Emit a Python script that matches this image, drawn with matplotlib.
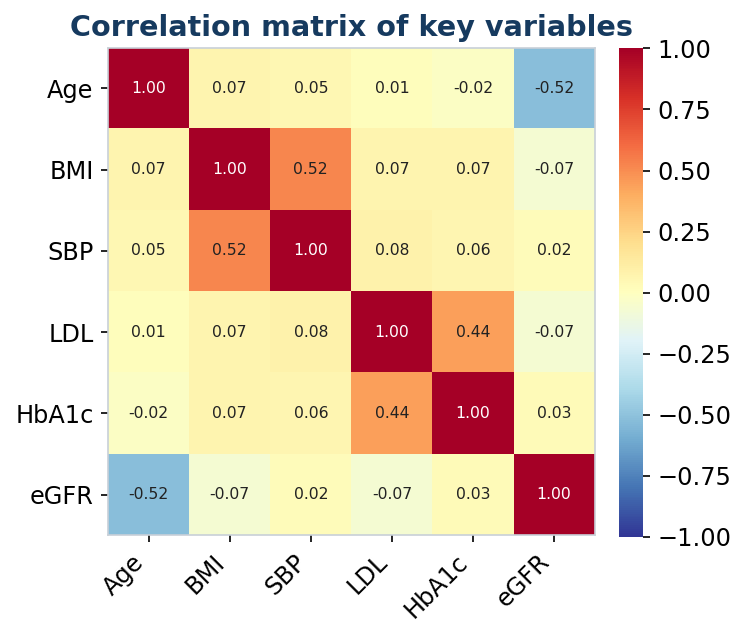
import numpy as np
import matplotlib
matplotlib.use("Agg")
import matplotlib.pyplot as plt

labels = ["Age", "BMI", "SBP", "LDL", "HbA1c", "eGFR"]
corr = np.array([
    [1.00, 0.07, 0.05, 0.01, -0.02, -0.52],
    [0.07, 1.00, 0.52, 0.07, 0.07, -0.07],
    [0.05, 0.52, 1.00, 0.08, 0.06, 0.02],
    [0.01, 0.07, 0.08, 1.00, 0.44, -0.07],
    [-0.02, 0.07, 0.06, 0.44, 1.00, 0.03],
    [-0.52, -0.07, 0.02, -0.07, 0.03, 1.00],
])

fig = plt.figure(figsize=(746 / 150, 638 / 150), dpi=150)
ax = fig.add_axes([0.145, 0.161, 0.652, 0.764])
cax = fig.add_axes([0.830, 0.159, 0.032, 0.765])

im = ax.imshow(corr, cmap="RdYlBu_r", vmin=-1, vmax=1, aspect="auto")
n = len(labels)
for i in range(n):
    for j in range(n):
        v = corr[i, j]
        col = "white" if abs(v) > 0.6 else "#222222"
        ax.text(j, i, f"{v:.2f}", ha="center", va="center", fontsize=7.5, color=col)

ax.set_xticks(range(n))
ax.set_yticks(range(n))
ax.set_xticklabels(labels, rotation=45, ha="right", fontsize=11.5)
ax.set_yticklabels(labels, fontsize=11.5)
for s in ax.spines.values():
    s.set_color("#c8d0d8")
ax.set_title("Correlation matrix of key variables", fontsize=13.75, fontweight="bold",
             color="#163a5f", pad=5.5)

cb = fig.colorbar(im, cax=cax)
cb.set_ticks(np.linspace(-1, 1, 9))
cb.ax.tick_params(labelsize=11.5)
cb.outline.set_visible(False)

fig.savefig("out.png", dpi=150)
